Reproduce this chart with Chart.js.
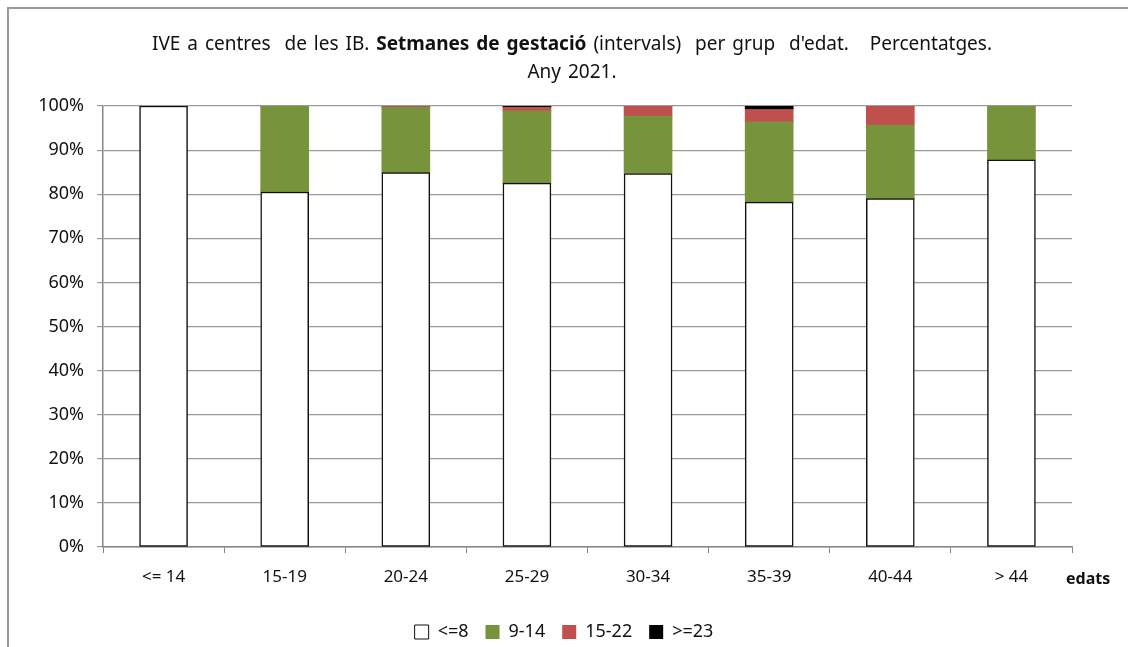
<!DOCTYPE html>
<html><head><meta charset="utf-8">
<script src="https://cdn.jsdelivr.net/npm/chart.js@4.4.1/dist/chart.umd.min.js"></script>
<style>
html,body{margin:0;padding:0;background:#fff;width:1128px;height:647px;overflow:hidden;font-family:"Noto Sans",sans-serif;}
#frame{position:absolute;left:7px;top:7px;width:1200px;height:700px;border:2px solid #9a9a9a;box-sizing:border-box;}
#wrap{position:absolute;left:0;top:0;width:1128px;height:647px;}
#title{position:absolute;left:72px;width:1000px;top:29px;text-align:center;font-size:19px;line-height:28px;color:#111;white-space:nowrap;word-spacing:2px;}
#edats{position:absolute;left:1066px;top:567px;font-size:16px;line-height:22px;font-weight:bold;color:#111;}
</style></head>
<body>
<div id="frame"></div>
<div id="wrap"><canvas id="c" width="1128" height="647"></canvas></div>
<div id="title">IVE a centres&nbsp; de les IB. <b>Setmanes de gestació</b> (intervals)&nbsp; per grup&nbsp; d'edat.&nbsp;&nbsp; Percentatges.<br>Any 2021.</div>
<div id="edats">edats</div>
<script>
const categories = ["<= 14","15-19","20-24","25-29","30-34","35-39","40-44","> 44"];
const seriesNames = ["<=8","9-14","15-22",">=23"];
const s8   = [100, 80.5, 84.9, 82.5, 84.7, 78.2, 79.0, 87.8];
const s914 = [0, 19.5, 14.8, 16.4, 13.0, 18.2, 16.7, 12.2];
const s1522= [0, 0, 0.3, 0.8, 2.3, 2.8, 4.3, 0];
const s23  = [0, 0, 0, 0.3, 0, 0.8, 0, 0];
const yTicks = [0,10,20,30,40,50,60,70,80,90,100];

const colors = ["#ffffff","#77933C","#C0504D","#000000"];
const vals = [s8,s914,s1522,s23];
const datasets = seriesNames.map((n,i)=>({
  label:n, data:vals[i], backgroundColor:colors[i],
  borderColor: i===0 ? "#111" : colors[i], borderWidth: i===0 ? 1.5 : 0,
  barThickness:48, borderSkipped: i===0 ? false : 'start'
}));

new Chart(document.getElementById('c'),{
  type:'bar',
  data:{labels:categories,datasets},
  options:{
    responsive:false,animation:false,
    layout:{padding:{top:106,right:0,left:0,bottom:-4}},
    plugins:{
      title:{display:false},tooltip:{enabled:false},
      legend:{position:'bottom',labels:{font:{family:"Noto Sans",size:18},color:'#111',boxWidth:14,boxHeight:14,padding:17,
        generateLabels(chart){return chart.data.datasets.map((d,i)=>({text:d.label,fillStyle:d.backgroundColor,strokeStyle:i===0?'#111':d.backgroundColor,lineWidth:i===0?1:0,datasetIndex:i,fontColor:'#111'}));}}}
    },
    scales:{
      x:{stacked:true,offset:true,
        grid:{drawOnChartArea:false,drawTicks:true,tickLength:6,offset:true,color:'#868686'},
        border:{color:'#868686',width:1.5},
        ticks:{font:{family:"Noto Sans",size:17},color:'#111',padding:14},
        afterFit(s){s.height=59;}
      },
      y:{stacked:true,min:0,max:100,
        afterBuildTicks(s){s.ticks=yTicks.map(v=>({value:v}));},
        grid:{color:'#9a9a9a',lineWidth:1.2,tickLength:6,drawTicks:true},
        border:{color:'#868686',width:1.5},
        ticks:{font:{family:"Noto Sans",size:18},color:'#111',padding:13,callback:v=>v+'%'},
        afterFit(s){s.width=103;}
      },
      pad:{position:'right',min:0,max:1,display:true,
        grid:{display:false,drawTicks:false},border:{display:false},ticks:{display:false},
        afterFit(s){s.width=56;}
      }
    }
  }
});
</script>
</body></html>
